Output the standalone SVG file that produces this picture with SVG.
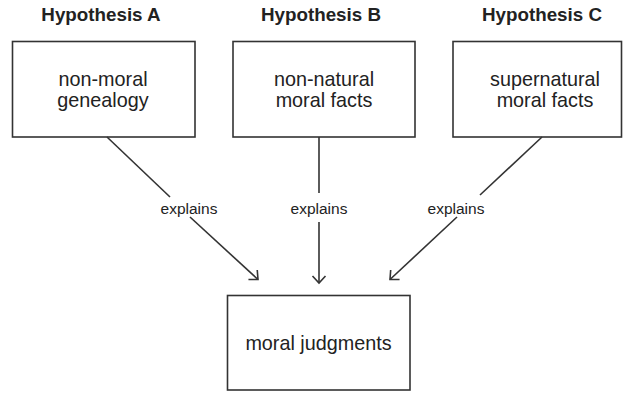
<svg xmlns="http://www.w3.org/2000/svg" width="626" height="393" viewBox="0 0 626 393">
<defs>
<marker id="arr" markerUnits="userSpaceOnUse" markerWidth="16" markerHeight="16" refX="0" refY="0" viewBox="-8 -8 16 16" orient="auto" overflow="visible">
<path d="M-7,-6.5 L0,0 L-7,6.5" fill="none" stroke="#333" stroke-width="1.6"/>
</marker>
</defs>
<style>
.box{fill:#fff;stroke:#333;stroke-width:1.6}
.title{font-family:"Liberation Sans",Arial,sans-serif;font-weight:bold;font-size:18.8px;fill:#222;text-anchor:middle}
.lbl{font-family:"Liberation Sans",Arial,sans-serif;font-size:19.8px;fill:#222;text-anchor:middle}
.edge{fill:none;stroke:#333;stroke-width:1.6}
.elbl{font-family:"Liberation Sans",Arial,sans-serif;font-size:15.5px;fill:#222;text-anchor:middle}
</style>
<rect width="626" height="393" fill="#fff"/>
<g id="hypA">
<text class="title" x="101" y="21">Hypothesis A</text>
<rect class="box" x="12.5" y="41.5" width="182.5" height="95.5"/>
<text class="lbl" x="103" y="86">non-moral</text>
<text class="lbl" x="103" y="107">genealogy</text>
</g>
<g id="hypB">
<text class="title" x="321" y="21">Hypothesis B</text>
<rect class="box" x="233" y="41.5" width="182" height="95.5"/>
<text class="lbl" x="324" y="86">non-natural</text>
<text class="lbl" x="324" y="107">moral facts</text>
</g>
<g id="hypC">
<text class="title" x="542" y="21">Hypothesis C</text>
<rect class="box" x="453" y="41.5" width="168.5" height="95.5"/>
<text class="lbl" x="545" y="86">supernatural</text>
<text class="lbl" x="545" y="107">moral facts</text>
</g>
<g id="judgments">
<rect class="box" x="227.5" y="295.5" width="182.5" height="94.5"/>
<text class="lbl" x="318.5" y="350">moral judgments</text>
</g>
<g id="connectors">
<path class="edge" d="M107,137 L170,197"/>
<path class="edge" d="M190,217 L258,279.5" marker-end="url(#arr)"/>
<text class="elbl" x="189" y="214">explains</text>
<path class="edge" d="M319,137 V193"/>
<path class="edge" d="M319,222 V283" marker-end="url(#arr)"/>
<text class="elbl" x="319" y="214">explains</text>
<path class="edge" d="M542,137 L480,195"/>
<path class="edge" d="M457,217 L390,279.5" marker-end="url(#arr)"/>
<text class="elbl" x="456" y="214">explains</text>
</g>
</svg>
